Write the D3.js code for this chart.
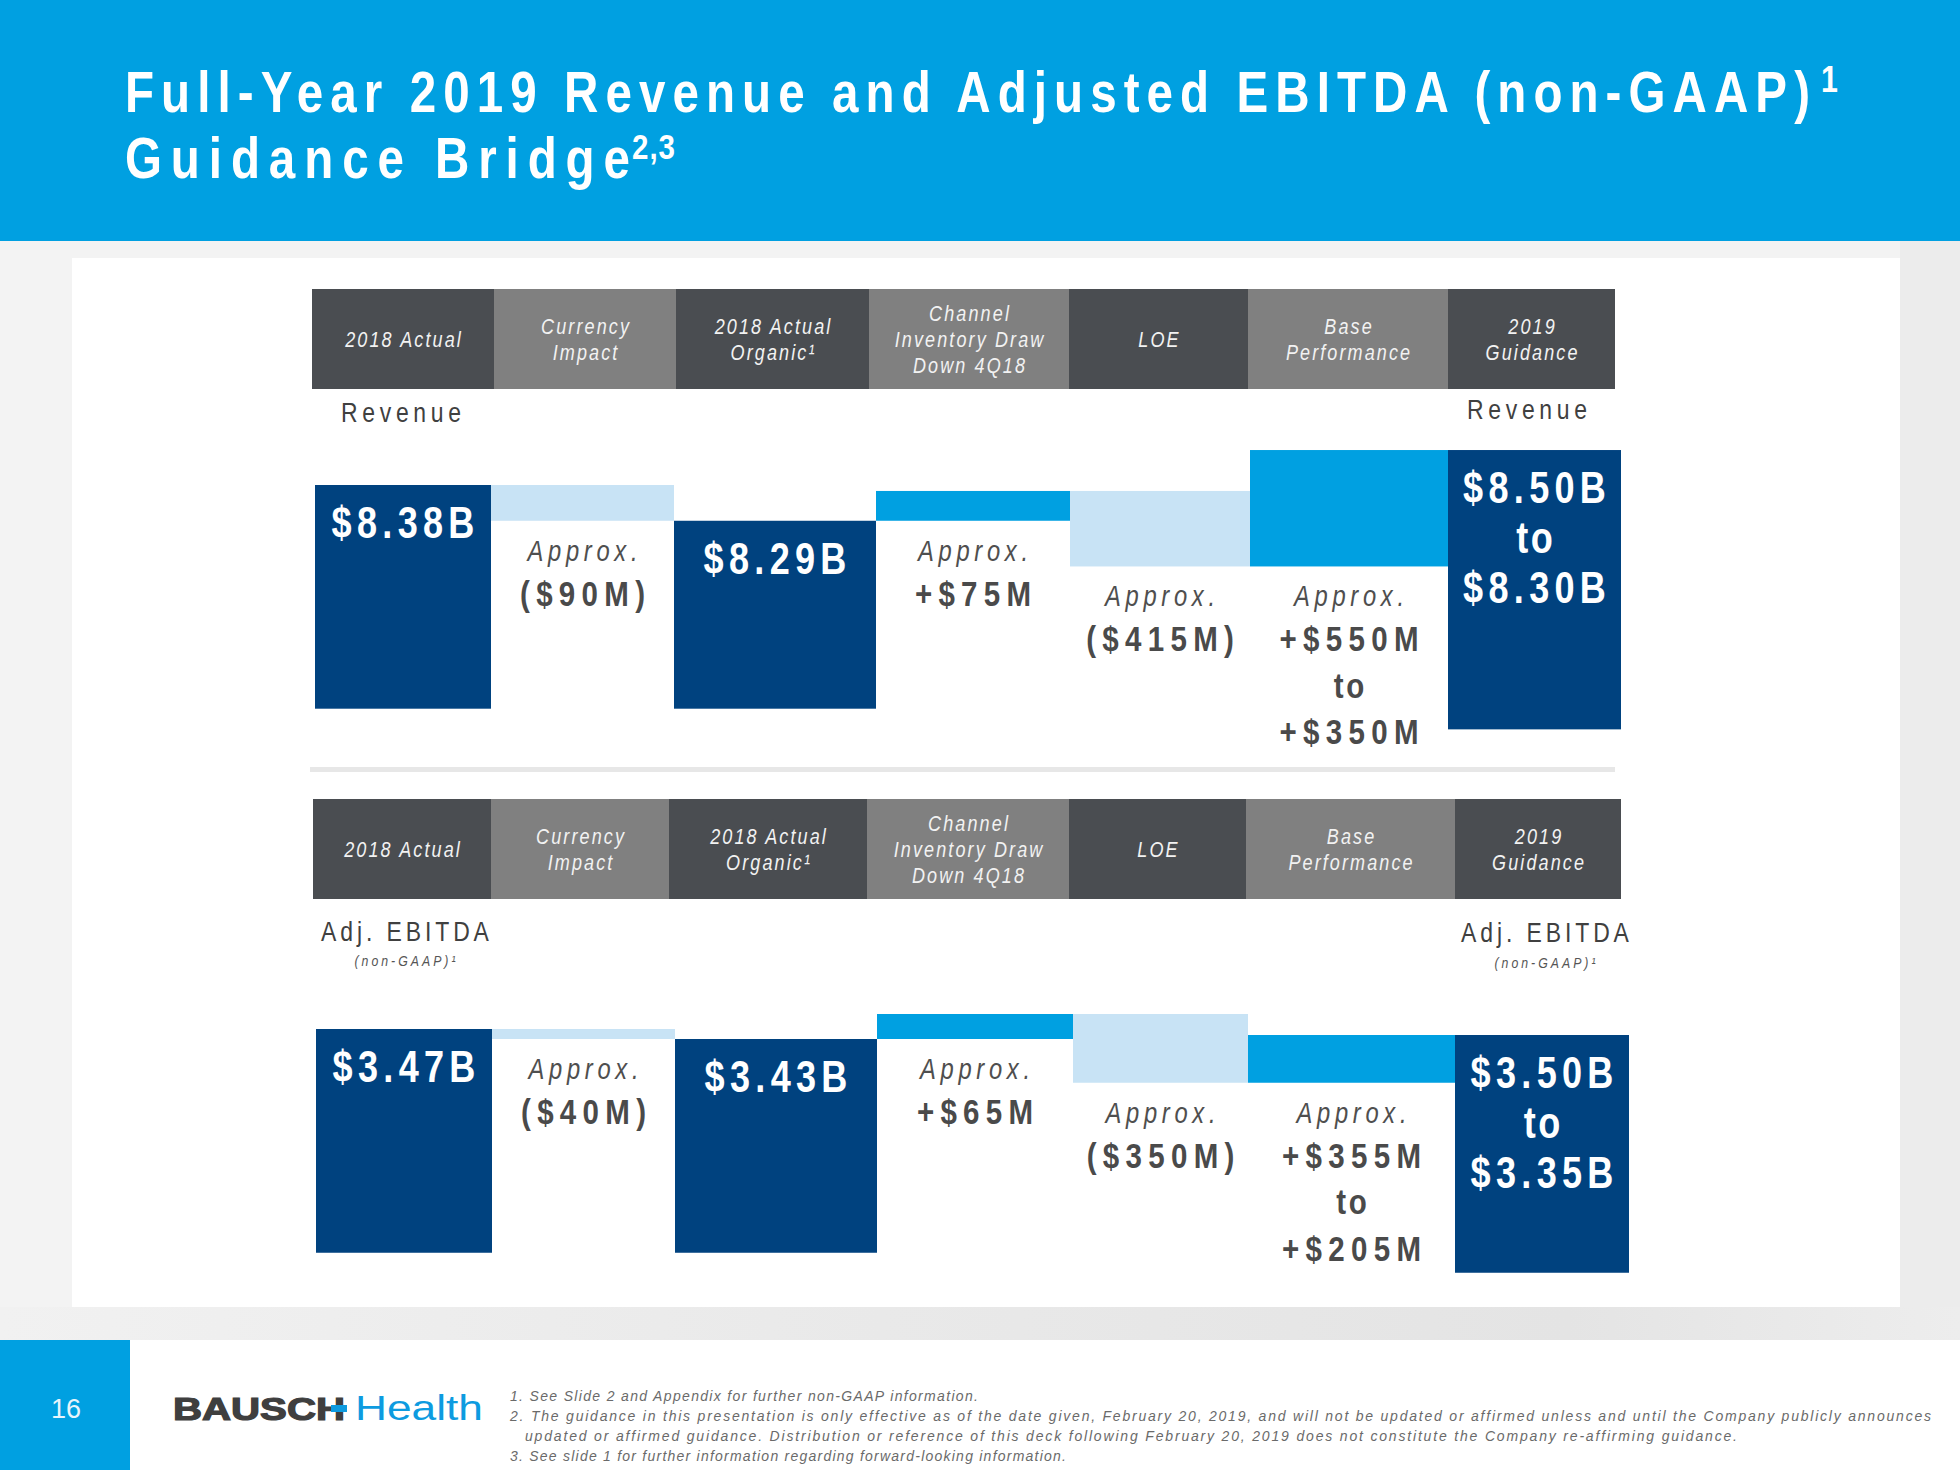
<!DOCTYPE html>
<html><head><meta charset="utf-8">
<script src="https://cdn.jsdelivr.net/npm/d3@7"></script>
<style>
html,body{margin:0;padding:0;background:#fff;}
svg{display:block;}
text{font-family:'Liberation Sans',Arial,sans-serif;}
</style></head><body>
<svg id="chart" width="1960" height="1470"></svg>
<script>
// ---------------- DATA ----------------
const categories = ["2018 Actual","Currency Impact","2018 Actual Organic","Channel Inventory Draw Down 4Q18","LOE","Base Performance","2019 Guidance"];
const headerLabels = [["2018 Actual"],["Currency","Impact"],["2018 Actual","Organic\u00B9"],["Channel","Inventory Draw","Down 4Q18"],["LOE"],["Base","Performance"],["2019","Guidance"]];
const stepTypes = ["total","decrease","total","increase","decrease","increase","total"];

// Revenue bridge ($B) – bar extents as drawn
const revenueStart = [7.817, 8.38, 7.817, 8.29, 8.365, 8.175, 7.765];
const revenueEnd   = [8.38, 8.29, 8.29, 8.365, 8.175, 8.468, 8.468];
const revenueLabels = [["$8.38B"],["Approx.","($90M)"],["$8.29B"],["Approx.","+$75M"],["Approx.","($415M)"],["Approx.","+$550M","to","+$350M"],["$8.50B","to","$8.30B"]];

// Adj. EBITDA bridge ($B) – bar extents as drawn
const ebitdaStart = [2.575, 3.47, 2.575, 3.43, 3.53, 3.255, 2.495];
const ebitdaEnd   = [3.47, 3.43, 3.43, 3.53, 3.255, 3.446, 3.446];
const ebitdaLabels = [["$3.47B"],["Approx.","($40M)"],["$3.43B"],["Approx.","+$65M"],["Approx.","($350M)"],["Approx.","+$355M","to","+$205M"],["$3.50B","to","$3.35B"]];

const titleLine1 = "Full-Year 2019 Revenue and Adjusted EBITDA (non-GAAP)";
const titleLine2 = "Guidance Bridge";
const footnotes = [
  "1. See Slide 2 and Appendix for further non-GAAP information.",
  "2. The guidance in this presentation is only effective as of the date given, February 20, 2019, and will not be updated or affirmed unless and until the Company publicly announces",
  "updated or affirmed guidance. Distribution or reference of this deck following February 20, 2019 does not constitute the Company re-affirming guidance.",
  "3. See slide 1 for further information regarding forward-looking information."
];
const pageNumber = "16";

// ---------------- STYLE / LAYOUT ----------------
const C = {
  blue:"#00a0e1", navy:"#00427f", light:"#c8e3f5", bright:"#00a0e1",
  headDark:"#4a4d51", headGray:"#808080"
};
const fillFor = {total:C.navy, decrease:C.light, increase:C.bright};
const SX = 0.82; // horizontal condensing to emulate a narrow face

const svg = d3.select("#chart");
const defs = svg.append("defs");
const g1 = defs.append("linearGradient").attr("id","band").attr("x1","0").attr("x2","1");
g1.append("stop").attr("offset","0").attr("stop-color","#f1f1f1");
g1.append("stop").attr("offset","0.45").attr("stop-color","#e9e9e9");
g1.append("stop").attr("offset","0.8").attr("stop-color","#e4e4e4");
g1.append("stop").attr("offset","1").attr("stop-color","#ededed");

// condensed text helper: x,y in page units, letter spacing in page units
function ntext(parent, x, y, txt, o){
  o = o||{};
  const ls = o.ls||0;
  const anchor = o.anchor||"middle";
  const t = parent.append("text")
    .attr("transform",`translate(${x},${y}) scale(${SX},1)`)
    .attr("text-anchor",anchor)
    .attr("font-size",o.size||20)
    .attr("font-weight",o.weight||"normal")
    .attr("font-style",o.style||"normal")
    .attr("fill",o.fill||"#444")
    .attr("letter-spacing",ls/SX)
    .attr("dx", anchor==="middle" ? ls/(2*SX) : 0)
    .text(txt);
  if(o.len){ t.attr("textLength",o.len/SX).attr("lengthAdjust","spacing").attr("letter-spacing",null).attr("dx",0); }
  return t;
}

// background
svg.append("rect").attr("width",1960).attr("height",1470).attr("fill","#f3f3f3");
svg.append("rect").attr("x",1900).attr("y",241).attr("width",60).attr("height",1066).attr("fill","#ececec");
svg.append("rect").attr("x",0).attr("y",1307).attr("width",1960).attr("height",33).attr("fill","url(#band)");
svg.append("rect").attr("x",0).attr("y",1340).attr("width",1960).attr("height",130).attr("fill","#fff");
svg.append("rect").attr("x",0).attr("y",1340).attr("width",130).attr("height",130).attr("fill",C.blue);
svg.append("rect").attr("x",72).attr("y",258).attr("width",1828).attr("height",1049).attr("fill","#fff");
svg.append("rect").attr("x",0).attr("y",0).attr("width",1960).attr("height",241).attr("fill",C.blue);

// title
ntext(svg,125,112,titleLine1,{anchor:"start",size:58,weight:"bold",fill:"#fff",len:1685});
ntext(svg,1821,92,"1",{anchor:"start",size:37,weight:"bold",fill:"#fff"});
ntext(svg,125,178,titleLine2,{anchor:"start",size:58,weight:"bold",fill:"#fff",len:505});
ntext(svg,632,159,"2,3",{anchor:"start",size:36,weight:"bold",fill:"#fff",ls:1});

// panels
const panels = [
  { key:"rev", start:revenueStart, end:revenueEnd, labels:revenueLabels,
    y: d3.scaleLinear().domain([8.38, 7.817]).range([485, 708.7]),
    headEdges:[312,494,676,869,1069,1248,1448,1615], headTop:289,
    barEdges:[315,491,674,876,1070,1250,1448,1621],
    title:"Revenue", sub:null, left:[401,422], right:[1527,419] },
  { key:"ebitda", start:ebitdaStart, end:ebitdaEnd, labels:ebitdaLabels,
    y: d3.scaleLinear().domain([3.47, 2.575]).range([1029, 1252.75]),
    headEdges:[313,491,669,867,1069,1246,1455,1621], headTop:799,
    barEdges:[316,492,675,877,1073,1248,1455,1629],
    title:"Adj. EBITDA", sub:"(non-GAAP)\u00B9", left:[405,941], right:[1545,942], subY:[966,968] }
];

panels.forEach(p=>{
  const g = svg.append("g").attr("class","panel-"+p.key);
  const hx0 = d3.scaleOrdinal(categories, p.headEdges.slice(0,-1));
  const hx1 = d3.scaleOrdinal(categories, p.headEdges.slice(1));
  const bx0 = d3.scaleOrdinal(categories, p.barEdges.slice(0,-1));
  const bx1 = d3.scaleOrdinal(categories, p.barEdges.slice(1));
  const headH = 100;

  // header cells
  const hc = g.selectAll("g.hcell").data(categories).join("g").attr("class","hcell");
  hc.append("rect").attr("x",d=>hx0(d)).attr("y",p.headTop).attr("width",d=>hx1(d)-hx0(d)).attr("height",headH)
    .attr("fill",(d,i)=>i%2===0?C.headDark:C.headGray);
  hc.each(function(d,i){
    const lines = headerLabels[i];
    const cx = (hx0(d)+hx1(d))/2, cy = p.headTop+headH/2;
    lines.forEach((ln,j)=>{
      ntext(d3.select(this), cx, cy+8-(lines.length-1)*13+j*26, ln,
        {size:22, style:"italic", fill:"#f2f2f2", ls:2.1});
    });
  });

  // side labels
  [p.left,p.right].forEach((pos,k)=>{
    ntext(g,pos[0],pos[1],p.title,{size:28,fill:"#404040",ls:p.title==="Revenue"?4.7:3.9});
    if(p.sub) ntext(g,pos[0],p.subY[k],p.sub,{size:15,style:"italic",fill:"#555",ls:3.0});
  });

  // bars
  const rows = categories.map((c,i)=>({c, i, s:p.start[i], e:p.end[i], type:stepTypes[i], labels:p.labels[i]}));
  g.selectAll("rect.bar").data(rows).join("rect").attr("class","bar")
    .attr("x",d=>bx0(d.c)).attr("width",d=>bx1(d.c)-bx0(d.c))
    .attr("y",d=>p.y(Math.max(d.s,d.e)))
    .attr("height",d=>Math.abs(p.y(d.s)-p.y(d.e)))
    .attr("fill",d=>fillFor[d.type]);

  // labels
  rows.forEach(d=>{
    const cx = (bx0(d.c)+bx1(d.c))/2;
    if(d.type==="total"){
      const top = p.y(Math.max(d.s,d.e));
      d.labels.forEach((ln,j)=>{
        ntext(g,cx,top+53+j*50,ln,{size:44,weight:"bold",fill:"#fff",ls:ln==="to"?2.5:5.3});
      });
    } else {
      const bottom = p.y(Math.min(d.s,d.e));
      let yy = bottom+40;
      d.labels.forEach((ln,j)=>{
        if(j>0) yy += (j===1?45:46.5);
        const isApprox = ln==="Approx.";
        ntext(g,cx,yy,ln,{size:isApprox?29:36, style:isApprox?"italic":"normal",
          weight:isApprox?"normal":"bold", fill:isApprox?"#4f4f4f":"#4a4a4a",
          ls:isApprox?4.7:(ln==="to"?2.5:6.3)});
      });
    }
  });
});

// separator
svg.append("rect").attr("x",310).attr("y",767).attr("width",1305).attr("height",5).attr("fill","#e7e7e7");

// footer
svg.append("text").attr("x",66).attr("y",1418).attr("text-anchor","middle")
  .attr("font-size",27).attr("fill","#e6f4fc").text(pageNumber);
svg.append("text").attr("x",173).attr("y",1420).attr("font-size",31).attr("font-weight","bold")
  .attr("fill","#3f3f3f").attr("textLength",172).attr("lengthAdjust","spacingAndGlyphs").attr("stroke","#3f3f3f").attr("stroke-width",1.2).text("BAUSCH");
svg.append("rect").attr("x",331).attr("y",1405).attr("width",16).attr("height",7).attr("fill","#0d9be0");
svg.append("text").attr("x",355).attr("y",1420).attr("font-size",35)
  .attr("fill","#0d9be0").attr("textLength",128).attr("lengthAdjust","spacingAndGlyphs").text("Health");

const fnPos = [[510,1401,468],[510,1421,1421],[525,1441,1212],[510,1461,556]];
footnotes.forEach((f,i)=>{
  svg.append("text").attr("x",fnPos[i][0]).attr("y",fnPos[i][1])
    .attr("font-size",14).attr("font-style","italic").attr("fill","#6a6a6a")
    .attr("textLength",fnPos[i][2]).attr("lengthAdjust","spacing").text(f);
});
</script>
</body></html>
